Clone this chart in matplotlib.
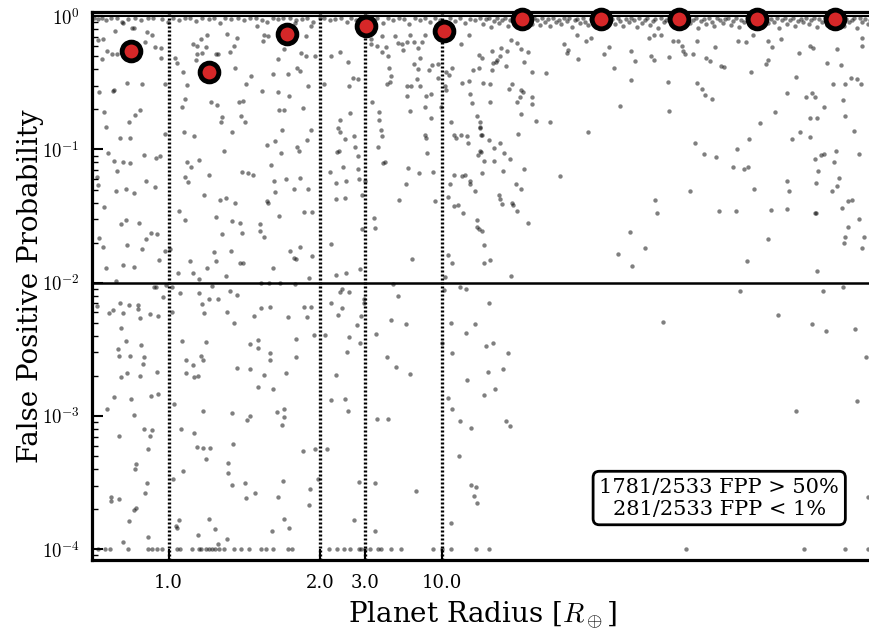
import numpy as np
import matplotlib
matplotlib.use("Agg")
import matplotlib.pyplot as plt
from matplotlib.ticker import LogLocator, NullFormatter, FuncFormatter

plt.rcParams['font.family'] = ['DejaVu Serif']
plt.rcParams['mathtext.fontset'] = 'cm'

# candidates are plotted by their rank in planet radius (0 .. n_total)
n_total = 2533

# (rank, log10 FPP) for the scattered candidates, FPP between 1e-2 and 1
upper_pts = [
    (21, -0.18), (37, -0.17), (48, -0.26), (64, -0.28), (81, -0.28), (34, -0.32), (24, -0.57), (39, -0.715),
    (68, -0.56), (73, -0.55), (113, -0.50), (162, -0.51), (46, -0.83), (92, -0.915), (122, -0.915), (119, -0.795),
    (140, -0.74), (157, -0.70), (53, -1.03), (72, -1.09), (102, -1.095), (122, -1.10), (81, -1.16), (16, -1.21),
    (18, -1.27), (39, -1.435), (78, -1.315), (110, -1.30), (135, -1.33), (176, -1.235), (205, -1.28), (170, -1.04),
    (207, -1.065), (221, -1.05), (236, -0.88), (236, -0.505), (222, -0.315), (205, -0.23), (222, -0.235), (178, -0.115),
    (194, -0.14), (135, -0.085), (75, -0.11), (102, -0.05), (129, -0.085), (173, -0.19), (94, -1.56), (111, -1.53),
    (151, -1.555), (23, -1.665), (35, -1.735), (46, -1.89), (99, -1.87), (113, -1.715), (137, -1.88), (162, -1.745),
    (174, -1.67), (190, -1.63), (211, -1.635), (216, -1.83), (238, -1.765), (254, -1.745), (281, -1.465), (301, -1.53),
    (316, -1.835), (326, -1.93), (346, -1.97), (279, -1.93), (78, -1.985),
    (270, -0.315), (276, -0.35), (295, -0.42), (308, -0.515), (302, -0.62), (290, -0.68), (298, -0.865), (331, -0.895),
    (308, -1.095), (320, -1.13), (348, -1.08), (300, -1.205), (310, -1.245), (378, -1.195), (362, -1.345), (416, -1.38),
    (434, -1.365), (402, -1.51), (464, -1.40), (422, -1.635), (454, -1.54), (479, -1.55), (485, -1.625), (394, -1.77),
    (401, -1.84), (450, -1.76), (478, -1.855), (489, -1.855), (433, -1.95), (374, -1.89), (327, -0.205), (339, -0.225),
    (353, -0.17), (372, -0.14), (356, -0.275), (370, -0.23), (341, -0.285), (338, -0.325), (401, -0.285), (408, -0.285),
    (384, -0.64), (406, -0.665), (420, -0.755), (417, -0.79), (427, -1.015), (454, -0.865), (459, -0.225), (447, -0.27),
    (436, -0.135), (471, -0.16), (464, -0.39), (498, -0.505), (515, -0.445), (477, -0.64), (489, -0.635), (483, -0.75),
    (495, -0.79), (485, -1.17), (520, -1.195), (504, -1.175), (543, -1.56), (558, -1.66), (544, -1.61), (567, -1.39),
    (569, -1.405), (581, -1.12), (592, -0.94), (568, -0.97), (588, -1.24), (594, -1.32), (605, -1.50), (587, -1.89),
    (605, -0.70), (621, -0.705), (615, -0.855), (637, -0.595), (636, -0.43), (673, -0.41), (685, -0.69), (701, -0.525),
    (710, -0.85), (697, -0.925), (663, -0.98), (669, -1.015), (612, -1.03), (628, -1.225), (654, -1.30), (673, -1.215),
    (688, -1.47), (712, -1.47), (699, -1.30), (642, -1.765), (653, -1.815), (661, -1.82), (675, -1.73), (712, -1.80),
    (704, -1.965), (663, -0.39), (694, -0.295), (721, -0.295), (677, -0.275), (623, -0.245), (602, -0.32), (550, -0.56),
    (585, -0.435), (602, -0.565), (558, -0.14), (569, -0.145), (553, -0.185), (536, -0.075), (612, -0.17), (656, -0.05),
    (694, -0.15), (710, -0.075),
    (751, -0.505), (773, -0.295), (802, -0.265), (828, -0.34), (833, -0.52), (844, -0.465), (862, -0.47), (836, -0.725),
    (802, -0.78), (798, -0.835), (802, -0.865), (819, -0.92), (850, -0.90), (853, -0.985), (860, -1.05), (799, -1.015),
    (794, -1.02), (814, -1.13), (772, -1.17), (791, -1.25), (823, -1.24), (789, -1.37), (821, -1.365), (865, -1.225),
    (876, -1.345), (860, -1.145), (884, -1.24), (914, -1.515), (916, -1.59), (874, -1.595), (867, -1.90), (824, -1.93),
    (789, -1.945), (773, -1.71), (930, -0.72), (931, -0.775), (938, -0.90), (925, -0.98), (937, -0.85), (907, -0.64),
    (944, -1.105), (950, -1.095), (903, -0.17), (905, -0.21), (923, -0.225), (940, -0.145), (951, -0.23), (960, -0.30),
    (963, -0.39), (968, -0.45), (957, -0.505), (965, -0.495), (938, -0.265), (981, -0.15), (992, -0.20), (1005, -0.21),
    (1008, -0.25), (1021, -0.19), (1030, -0.14), (1044, -0.19), (1057, -0.235), (1068, -0.195), (1079, -0.14), (1063, -0.315),
    (1042, -0.36), (1057, -0.395), (1052, -0.47), (1063, -0.52), (1034, -0.525), (1019, -0.595), (1019, -0.52), (1082, -0.595),
    (1079, -0.68), (1098, -0.765), (1097, -0.58), (1077, -0.89), (1083, -0.915), (1084, -1.025), (1030, -0.71), (1024, -1.14),
    (1059, -1.18), (1018, -1.26), (995, -1.38), (1038, -1.825), (1090, -0.40), (1100, -0.365), (1120, -0.36), (1122, -0.46),
    (1146, -0.415), (1155, -0.44), (1144, -0.525), (1147, -0.555), (1166, -0.39), (1131, -0.68), (1163, -0.79), (1173, -0.89),
    (1178, -0.915), (1195, -0.89), (1214, -0.90), (1217, -0.95), (1259, -0.89), (1258, -0.835), (1198, -0.50), (1220, -0.485),
    (1231, -0.65), (1223, -0.585), (1257, -0.79), (1252, -0.39), (1233, -0.40), (1195, -0.205), (1220, -0.14), (1252, -0.29),
    (1106, -1.17), (1111, -1.39), (1152, -1.36), (1159, -1.26), (1171, -1.19), (1198, -1.20), (1209, -1.19), (1225, -1.24),
    (1225, -1.26), (1239, -1.31), (1152, -1.79), (1166, -1.855), (1174, -1.425), (1187, -1.42), (1202, -1.48), (1247, -1.58),
    (1255, -1.60), (1250, -1.04), (1258, -1.01), (1144, -1.96),
    (1263, -0.31), (1296, -0.26), (1299, -0.35), (1307, -0.345), (1312, -0.325), (1321, -0.30), (1325, -0.24), (1345, -0.26),
    (1342, -0.375), (1296, -0.405), (1356, -0.18), (1377, -0.20), (1390, -0.245), (1412, -0.27), (1424, -0.415), (1469, -0.425),
    (1399, -0.34), (1267, -0.50), (1288, -0.51), (1288, -0.645), (1350, -0.545), (1361, -0.51), (1390, -0.55), (1396, -0.57),
    (1386, -0.607), (1377, -0.645), (1426, -0.605), (1426, -0.655), (1388, -0.735), (1438, -0.787), (1485, -0.794), (1247, -0.75),
    (1258, -0.83), (1263, -0.894), (1285, -0.93), (1301, -0.986), (1323, -0.954), (1334, -1.024), (1261, -1.02), (1269, -1.086),
    (1303, -1.09), (1353, -1.07), (1332, -1.16), (1263, -1.174), (1399, -1.144), (1380, -0.886), (1372, -1.26), (1388, -1.293),
    (1319, -1.34), (1323, -1.368), (1328, -1.41), (1361, -1.398), (1363, -1.42), (1375, -1.46), (1413, -1.553), (1247, -1.53),
    (1263, -1.61), (1269, -1.718), (1271, -1.853), (1288, -1.83), (1357, -1.953), (1515, -1.20), (1607, -0.869), (1574, -0.32),
    (1541, -0.25), (1540, -0.275), (1529, -0.212), (1570, -0.137), (1600, -0.182), (1616, -0.162), (1659, -0.28), (1676, -0.232),
    (1692, -0.387), (1711, -0.674), (1746, -0.262), (1759, -0.337), (1747, -0.477), (1744, -1.618), (1749, -1.873), (1703, -1.783),
    (1790, -1.738), (1809, -0.295), (1819, -0.332), (1803, -0.162), (1819, -0.137), (1842, -0.142), (1869, -0.307), (1881, -0.187),
    (1899, -0.187), (1911, -0.225), (1913, -0.262), (1922, -0.287), (1946, -0.287), (1958, -0.187), (1960, -0.502), (1976, -0.544),
    (1987, -0.594), (2008, -0.619), (1989, -0.312), (2003, -0.337), (2017, -0.232), (2037, -0.37), (2046, -0.382), (1865, -0.494),
    (1869, -0.712), (1953, -0.954), (1983, -1.031), (2021, -1.059), (1938, -1.313), (1823, -1.376), (1830, -1.473), (2030, -1.463),
    (2085, -1.463), (2075, -1.131), (2112, -1.146), (2124, -1.129), (2090, -0.994), (2129, -0.919), (2144, -1.296), (2164, -0.799),
    (2199, -1.456), (2188, -1.668), (2122, -1.835), (2093, -0.182), (2119, -0.195), (2135, -0.42), (2142, -0.137), (2182, -0.362),
    (2191, -0.325), (2202, -0.232), (2189, -0.187), (2232, -0.167), (2289, -0.277), (2324, -0.225), (2335, -0.237), (2382, -0.352),
    (2413, -0.245), (2426, -0.367), (2400, -0.507), (2439, -0.512), (2458, -0.462), (2478, -0.474), (2491, -0.507), (2432, -0.632),
    (2438, -0.749), (2469, -0.861), (2484, -1.036), (2370, -0.682), (2332, -0.574), (2341, -0.607), (2312, -0.607), (2251, -0.574),
    (2213, -0.719), (2294, -0.866), (2268, -0.921), (2324, -0.904), (2327, -0.764), (2349, -0.762), (2341, -1.074), (2362, -1.041),
    (2371, -1.031), (2410, -1.014), (2403, -1.094), (2350, -1.161), (2345, -1.254), (2420, -1.211), (2414, -1.271), (2396, -1.311),
    (2251, -1.236), (2256, -1.311), (2250, -1.448), (2341, -1.478), (2345, -1.473), (2430, -1.436), (2449, -1.386), (2462, -1.381),
    (2483, -1.523), (2450, -1.585), (2438, -1.658), (2436, -1.703), (2500, -1.653), (2495, -1.743), (2530, -1.411), (2527, -1.461),
    (2348, -1.915), (2281, -0.455), (2495, -0.162), (2493, -0.225),
]

# (rank, log10 FPP) for candidates below 1e-2
lower_pts = [
    (200, -2.03), (207, -2.03), (241, -2.02), (259, -2.03), (284, -2.08), (229, -2.11), (348, -2.08), (380, -2.12),
    (390, -2.025), (409, -2.12), (447, -2.06), (471, -2.09), (549, -2.00), (574, -2.00), (610, -2.00), (658, -2.01),
    (802, -2.07), (809, -2.05), (831, -2.07), (880, -2.12), (882, -2.155), (975, -2.01), (992, -2.10), (1141, -2.055),
    (1191, -2.03), (1210, -2.05),
    (15, -2.175), (55, -2.23), (69, -2.205), (90, -2.15), (100, -2.225), (119, -2.17), (148, -2.17), (149, -2.20),
    (154, -2.265), (187, -2.235), (214, -2.25), (259, -2.22), (357, -2.16), (364, -2.23), (437, -2.22), (461, -2.305),
    (526, -2.25), (547, -2.19), (577, -2.18), (635, -2.26), (688, -2.185), (695, -2.26), (710, -2.18), (775, -2.155),
    (798, -2.245), (811, -2.19), (870, -2.25), (967, -2.28), (1016, -2.31), (1163, -2.305), (1242, -2.31),
    (95, -2.34), (109, -2.435), (85, -2.50), (89, -2.55), (124, -2.55), (158, -2.47), (167, -2.56), (164, -2.61),
    (94, -2.71), (112, -2.68), (157, -2.70), (211, -2.67), (290, -2.435), (306, -2.58), (328, -2.62), (304, -2.675),
    (331, -2.71), (343, -2.70), (354, -2.55), (358, -2.58), (368, -2.445), (469, -2.64), (513, -2.46), (539, -2.43),
    (538, -2.49), (512, -2.65), (556, -2.695), (575, -2.525), (576, -2.58), (538, -2.785), (585, -2.795), (629, -2.68),
    (660, -2.42), (661, -2.56), (720, -2.39), (755, -2.395), (789, -2.69), (826, -2.52), (832, -2.41), (858, -2.32),
    (868, -2.45), (921, -2.385), (955, -2.56), (986, -2.63), (1031, -2.685), (1134, -2.455), (1165, -2.525), (1215, -2.73),
    (1212, -2.38),
    (72, -2.86), (49, -2.95), (126, -2.87), (136, -2.99), (192, -2.85), (215, -2.835), (267, -2.91), (89, -3.15),
    (169, -3.10), (189, -3.15), (195, -3.105), (183, -3.25), (288, -3.10), (330, -3.13), (341, -3.23), (359, -2.965),
    (359, -3.24), (381, -3.24), (368, -3.32), (455, -2.975), (456, -3.21), (501, -3.03), (513, -3.00), (598, -2.97),
    (623, -2.95), (622, -3.005), (614, -3.07), (683, -3.26), (723, -3.25), (760, -3.25), (774, -2.88), (820, -2.87),
    (828, -2.96), (924, -3.02), (959, -3.02), (1152, -2.865), (1167, -2.95), (1191, -3.04), (1228, -3.09), (1189, -3.30),
    (142, -3.36), (141, -3.395), (178, -3.50), (171, -3.575), (62, -3.61), (62, -3.64), (86, -3.62), (119, -3.79),
    (137, -3.705), (144, -3.69), (182, -3.91), (101, -3.945), (264, -3.47), (294, -3.41), (282, -3.78), (271, -3.825),
    (276, -3.84), (343, -3.89), (378, -3.77), (397, -3.85), (409, -3.96), (437, -3.92), (442, -3.35), (441, -3.43),
    (452, -3.52), (495, -3.50), (499, -3.615), (528, -3.575), (584, -3.86), (601, -3.61), (618, -3.49), (623, -3.77),
    (638, -3.84), (702, -3.665), (707, -3.55), (731, -3.47), (850, -3.78), (866, -3.495), (916, -3.86), (918, -3.505),
    (1051, -3.565), (1228, -3.52), (1243, -3.535), (1237, -3.60), (1247, -3.65), (1162, -3.80),
    (1287, -2.155), (1276, -2.475), (1300, -2.45), (1348, -2.525), (1281, -2.67), (1331, -2.65), (1270, -2.84), (1306, -2.80),
    (1341, -3.035), (1353, -3.075), (1848, -2.295), (2099, -2.06), (2367, -2.06), (2431, -2.035), (2221, -2.245), (2332, -2.31),
    (2378, -2.36), (2470, -2.35), (2506, -2.56), (2477, -2.89), (2281, -2.965), (2513, -3.605),
]

# ranks of candidates sitting at the FPP = 1e-4 floor
floor_rank = [21, 42, 59, 118, 180, 196, 210, 227, 276, 284, 324, 346, 352, 368, 379, 390, 400, 411, 428,
              460, 482, 509, 547, 563, 585, 634, 648, 769, 794, 815, 835, 865, 872, 883, 901, 927, 937, 970,
              1000, 1106, 1133, 1163, 1244, 1285, 1923, 2307, 2440, 2514]

# (rank, log10 FPP) for the crowded band just under FPP = 1
band_pts = [
    (6, -0.01), (18, -0.02), (33, -0.01), (47, -0.03), (63, -0.015), (80, -0.01), (96, -0.04), (118, -0.02),
    (141, -0.01), (160, -0.03), (183, -0.015), (199, -0.01), (226, -0.02), (247, -0.045), (262, -0.01), (281, -0.025),
    (300, -0.015), (318, -0.01), (337, -0.035), (355, -0.01), (378, -0.02), (396, -0.015), (415, -0.05), (432, -0.01),
    (451, -0.02), (474, -0.01), (493, -0.03), (512, -0.015), (530, -0.01), (551, -0.025), (566, -0.04), (585, -0.01),
    (603, -0.02), (620, -0.015), (641, -0.01), (662, -0.03), (680, -0.02), (697, -0.01), (716, -0.045), (737, -0.015),
    (752, -0.01), (770, -0.03), (788, -0.02), (806, -0.01), (825, -0.04), (839, -0.015), (855, -0.025), (872, -0.01),
    (889, -0.035), (906, -0.02), (924, -0.01), (942, -0.05), (959, -0.015), (976, -0.03), (993, -0.01), (1010, -0.02),
    (1027, -0.06), (1045, -0.01), (1061, -0.03), (1078, -0.015), (1094, -0.045), (1110, -0.01), (1127, -0.025), (1145, -0.07),
    (1160, -0.015), (1176, -0.035), (1192, -0.01), (1208, -0.05), (1225, -0.02), (1241, -0.03), (1257, -0.01),
    (1268, -0.06), (1276, -0.02), (1285, -0.01), (1293, -0.08), (1302, -0.035), (1311, -0.015), (1319, -0.05), (1328, -0.025),
    (1337, -0.01), (1346, -0.07), (1354, -0.03), (1363, -0.015), (1372, -0.045), (1380, -0.02), (1389, -0.01), (1398, -0.09),
    (1407, -0.035), (1415, -0.02), (1424, -0.055), (1433, -0.01), (1441, -0.03), (1450, -0.065), (1459, -0.015), (1467, -0.04),
    (1476, -0.02), (1485, -0.075), (1494, -0.01), (1502, -0.045), (1511, -0.025), (1520, -0.06), (1528, -0.015), (1537, -0.035),
    (1546, -0.01), (1555, -0.08), (1563, -0.03), (1572, -0.02), (1581, -0.05), (1589, -0.01), (1598, -0.04), (1607, -0.065),
    (1616, -0.02), (1624, -0.03), (1633, -0.01), (1642, -0.055), (1650, -0.025), (1659, -0.085), (1668, -0.015), (1677, -0.04),
    (1685, -0.02), (1694, -0.06), (1703, -0.01), (1711, -0.035), (1720, -0.07), (1729, -0.02), (1738, -0.045), (1746, -0.01),
    (1755, -0.03), (1764, -0.08), (1772, -0.015), (1781, -0.05), (1790, -0.025), (1799, -0.01), (1807, -0.065), (1816, -0.035),
    (1825, -0.02), (1833, -0.09), (1842, -0.01), (1851, -0.045), (1860, -0.03), (1868, -0.015), (1877, -0.06), (1886, -0.02),
    (1894, -0.04), (1903, -0.01), (1912, -0.075), (1921, -0.03), (1929, -0.015), (1938, -0.05), (1947, -0.025), (1955, -0.01),
    (1964, -0.085), (1973, -0.035), (1982, -0.02), (1990, -0.055), (1999, -0.01), (2008, -0.04), (2016, -0.07), (2025, -0.015),
    (2034, -0.03), (2043, -0.05), (2051, -0.02), (2060, -0.01), (2069, -0.065), (2077, -0.035), (2086, -0.015), (2095, -0.08),
    (2103, -0.025), (2112, -0.045), (2121, -0.01), (2130, -0.06), (2138, -0.02), (2147, -0.035), (2156, -0.01), (2164, -0.075),
    (2173, -0.03), (2182, -0.015), (2191, -0.05), (2199, -0.02), (2208, -0.04), (2217, -0.01), (2225, -0.09), (2234, -0.03),
    (2243, -0.015), (2252, -0.055), (2260, -0.025), (2269, -0.01), (2278, -0.07), (2286, -0.035), (2295, -0.02), (2304, -0.045),
    (2312, -0.01), (2321, -0.06), (2330, -0.03), (2339, -0.015), (2347, -0.08), (2356, -0.02), (2365, -0.04), (2373, -0.01),
    (2382, -0.065), (2391, -0.025), (2399, -0.05), (2408, -0.015), (2417, -0.035), (2426, -0.01), (2434, -0.07), (2443, -0.02),
    (2452, -0.045), (2460, -0.03), (2469, -0.015), (2478, -0.085), (2486, -0.01), (2495, -0.04), (2504, -0.02), (2512, -0.06),
    (2521, -0.03), (2530, -0.01),
]

# mean FPP in ten equal-size radius bins
bin_center_rank = [127, 380, 633, 887, 1140, 1393, 1647, 1900, 2153, 2406]
bin_mean_fpp = [0.55, 0.38, 0.73, 0.84, 0.77, 0.95, 0.96, 0.95, 0.95, 0.95]

# radius values marked on the x axis and the rank where they fall
radius_ticks = ['1.0', '2.0', '3.0', '10.0']
radius_tick_rank = [248, 738, 885, 1133]

n_high = 1781
n_low = 281

pts = upper_pts + lower_pts + band_pts
x = np.array([p[0] for p in pts] + floor_rank, dtype=float)
y = np.array([10 ** p[1] for p in pts] + [1e-4] * len(floor_rank))

fig = plt.figure(figsize=(8.7, 6.3), dpi=100)
ax = fig.add_axes([0.1057, 0.1111, 0.899, 0.8706])

ax.scatter(x, y, s=10, c='k', alpha=0.5, linewidths=0, zorder=2)

ax.axhline(1.0, color='k', lw=1.5, zorder=3)
ax.axhline(1e-2, color='k', lw=1.8, zorder=3)
for r in radius_tick_rank:
    ax.axvline(r, color='k', lw=2.4, ls=(0, (0.6, 0.6)), zorder=3)

ax.plot(bin_center_rank, bin_mean_fpp, 'o', ms=13.5, mfc='#d62728', mec='k', mew=3.5,
        zorder=5, clip_on=False)

ax.set_yscale('log')
ax.set_ylim(8.3e-5, 1.085)
ax.set_xlim(0, n_total)
ax.yaxis.set_major_locator(LogLocator(base=10, numticks=10))
ax.yaxis.set_major_formatter(FuncFormatter(lambda v, pos: r'$10^{%d}$' % round(np.log10(v))))
ax.yaxis.set_minor_locator(LogLocator(base=10, subs=np.arange(2, 10), numticks=10))
ax.yaxis.set_minor_formatter(NullFormatter())

ax.set_xticks(radius_tick_rank)
ax.set_xticklabels(radius_ticks)
ax.tick_params(which='major', direction='in', length=8, width=1.5, labelsize=13, pad=10)
ax.tick_params(axis='y', which='major', labelsize=13.5, pad=9)
ax.tick_params(which='minor', direction='in', length=4, width=1)
ax.tick_params(axis='x', which='minor', length=0)

for s in ax.spines.values():
    s.set_linewidth(2.3)

ax.set_xlabel(r'Planet Radius [$R_\oplus$]', fontsize=20, labelpad=5)
ax.set_ylabel('False Positive Probability', fontsize=20)
ax.yaxis.set_label_coords(-0.061, 0.5)

ax.text(0.802, 0.113,
        '%d/%d FPP > 50%%\n%d/%d FPP < 1%%' % (n_high, n_total, n_low, n_total),
        transform=ax.transAxes, ha='center', va='center', multialignment='center',
        fontsize=15, zorder=6,
        bbox=dict(boxstyle='round,pad=0.3', fc='white', ec='k', lw=2))

fig.savefig('out.png', dpi=100)
